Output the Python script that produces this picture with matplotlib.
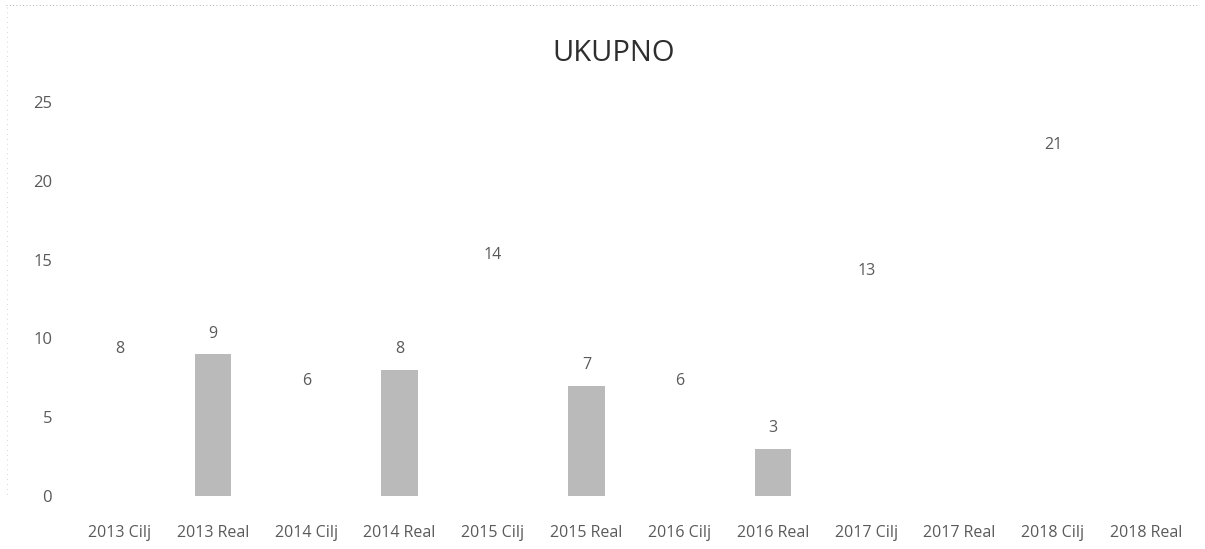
import matplotlib.pyplot as plt
import numpy as np

# podaci s grafa
categories = ['2013 Cilj', '2013 Real', '2014 Cilj', '2014 Real', '2015 Cilj', '2015 Real',
              '2016 Cilj', '2016 Real', '2017 Cilj', '2017 Real', '2018 Cilj', '2018 Real']
values = [8, 9, 6, 8, 14, 7, 6, 3, 13, np.nan, 21, np.nan]
# Cilj stupci su na skenu bijeli (nevidljivi), Real sivi
bar_colors = ['white', '#bababa'] * 6
yticks = [0, 5, 10, 15, 20, 25]

plt.rcParams['font.family'] = ['Open Sans', 'DejaVu Sans']
txt_col = '#5a5a5a'

fig = plt.figure(figsize=(12.05, 5.49), dpi=100)
ax = fig.add_axes([0.0606, 0.0965, 0.9294, 0.7175])

x = np.arange(len(categories))
bars = ax.bar(x, np.nan_to_num(values), width=0.39, color=bar_colors, edgecolor='none')

for xi, v in zip(x, values):
    if np.isnan(v):
        continue
    ax.annotate(str(int(v)), (xi, v), xytext=(0, 9), textcoords='offset points',
                ha='center', va='bottom', fontsize=11.5, color=txt_col)

ax.set_xlim(-0.5, len(categories) - 0.5)
ax.set_ylim(0, 25)
ax.set_yticks(yticks)
ax.set_yticklabels([str(t) for t in yticks], fontsize=12, color=txt_col)
ax.set_xticks(x)
ax.set_xticklabels(categories, fontsize=11.5, color=txt_col)
ax.tick_params(axis='y', length=0, pad=15)
ax.tick_params(axis='x', length=0, pad=21)
for s in ax.spines.values():
    s.set_visible(False)

fig.text(0.509, 0.903, 'UKUPNO', ha='center', va='center', fontsize=21,
         color='#2e2e2e')

# rub skena (tockasta linija gore i lijevo)
fig.add_artist(plt.Line2D([0.005, 0.995], [0.99, 0.99], transform=fig.transFigure,
                          color='#9a9a9a', lw=0.6, ls=(0, (1, 3))))
fig.add_artist(plt.Line2D([0.006, 0.006], [0.1, 0.99], transform=fig.transFigure,
                          color='#b0b0b0', lw=0.5, ls=(0, (1, 6))))

fig.savefig('out.png', dpi=100)
